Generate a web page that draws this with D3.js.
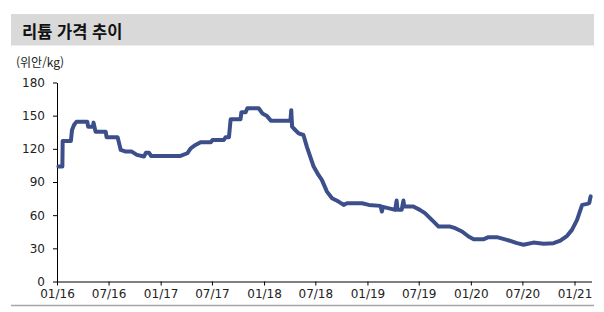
<!DOCTYPE html>
<html lang="ko">
<head>
<meta charset="utf-8">
<style type="text/css">
    body { margin: 0; background: #fff; }
    .tick text { font-family: "DejaVu Sans", sans-serif; font-size: 12px; fill: #222; }
    .axis path, .axis line { stroke: #000; }
    .price { fill: none; stroke: #3d4f8a; stroke-width: 4px; stroke-linejoin: round; stroke-linecap: round; }
</style>
</head>
<body>
<svg width="604" height="312"></svg>

<script src="https://cdn.jsdelivr.net/npm/d3@7"></script>
<script type="text/javascript">

// 리튬 가격 (위안/kg)
var dates = [
    "2016-01-06", "2016-01-20", "2016-01-21", "2016-02-19", "2016-02-23", "2016-03-01", "2016-03-10",
    "2016-04-17", "2016-04-20", "2016-05-07", "2016-05-09", "2016-05-16", "2016-06-21", "2016-06-24",
    "2016-08-02", "2016-08-13", "2016-08-31", "2016-09-21", "2016-10-09", "2016-11-03", "2016-11-10",
    "2016-11-21", "2016-11-28", "2017-03-12", "2017-04-05", "2017-04-17", "2017-05-04", "2017-05-22",
    "2017-06-27", "2017-07-03", "2017-08-12", "2017-08-18", "2017-08-30", "2017-09-05", "2017-10-10",
    "2017-10-13", "2017-10-28", "2017-11-03", "2017-12-13", "2017-12-26", "2018-01-10", "2018-01-25",
    "2018-04-04", "2018-04-07", "2018-04-10", "2018-04-15", "2018-05-03", "2018-05-20", "2018-06-01",
    "2018-06-13", "2018-06-25", "2018-07-12", "2018-07-24", "2018-08-11", "2018-08-29", "2018-09-21",
    "2018-10-09", "2018-10-21", "2018-12-13", "2019-01-06", "2019-02-16", "2019-02-21", "2019-02-25",
    "2019-04-09", "2019-04-14", "2019-04-17", "2019-05-02", "2019-05-08", "2019-05-11", "2019-06-12",
    "2019-07-05", "2019-07-23", "2019-08-10", "2019-08-28", "2019-09-09", "2019-10-20", "2019-11-07",
    "2019-12-01", "2019-12-24", "2020-01-11", "2020-02-16", "2020-03-03", "2020-04-02", "2020-05-07",
    "2020-06-12", "2020-07-05", "2020-08-09", "2020-09-14", "2020-10-19", "2020-11-12", "2020-12-06",
    "2020-12-23", "2021-01-10", "2021-01-22", "2021-01-28", "2021-02-15", "2021-02-22", "2021-02-27"
];
var prices = [
    104, 104, 127, 127, 137, 141.6, 144.6,
    144.6, 140, 140, 143.7, 135.5, 135.5, 130.5,
    130.5, 119, 117.5, 117.5, 114.5, 113, 116.5,
    116.5, 113.6, 113.6, 116, 120.5, 123.5, 126,
    126, 128, 128, 130.5, 130.5, 146.7, 146.7,
    153, 153, 156.7, 156.7, 152, 150, 145.5,
    145.5, 155, 140, 138.6, 134, 132.5, 122,
    113, 104, 96.4, 91.9, 81.3, 75.3, 72.3,
    69.3, 70.8, 70.8, 69.3, 68.4, 63.3, 67.5,
    64.8, 73.2, 65, 65, 73.2, 67.8, 67.8,
    64.8, 61.8, 57.3, 52.8, 49.7, 49.7, 48.2,
    45.2, 40.7, 38.3, 38.3, 40.1, 40.1, 37.7,
    34.7, 33.2, 35.2, 34.1, 34.7, 37, 41.3,
    46.7, 55.7, 64.8, 69.3, 70.2, 71, 77
];
var yTicks = [0, 30, 60, 90, 120, 150, 180];
var xStart = "2016-01-01", xEnd = "2021-03-02";
var title = "리튬 가격 추이";
var unit = "(위안/kg)";

var parse = d3.timeParse("%Y-%m-%d");
var series = dates.map(function (d, i) { return { date: parse(d), value: prices[i] }; });

var svg = d3.select("svg");

// title band
svg.append("rect")
    .attr("x", 11).attr("y", 14)
    .attr("width", 583).attr("height", 31.5)
    .attr("fill", "#d9d9d9");

svg.append("text")
    .attr("x", 22).attr("y", 37.5)
    .style("font-family", "'Noto Sans CJK KR', sans-serif")
    .style("font-weight", "bold")
    .style("font-size", "16.5px")
    .style("fill", "#111")
    .text(title);

svg.append("text")
    .attr("x", 16).attr("y", 66.5)
    .style("font-family", "'Noto Sans CJK KR', sans-serif")
    .style("font-size", "12px")
    .style("fill", "#222")
    .text(unit);

// bottom rule
svg.append("line")
    .attr("x1", 11).attr("x2", 594)
    .attr("y1", 305.5).attr("y2", 305.5)
    .attr("stroke", "#a6a6a6").attr("stroke-width", 1.5);

var x = d3.scaleTime()
    .domain([parse(xStart), parse(xEnd)])
    .range([57, 591.5]);

var y = d3.scaleLinear()
    .domain([0, 180])
    .range([281.5, 82.5]);

var xAxis = d3.axisBottom(x)
    .ticks(d3.timeMonth.every(6))
    .tickFormat(d3.timeFormat("%m/%y"))
    .tickSize(4)
    .tickSizeOuter(0)
    .tickPadding(4);

var yAxis = d3.axisLeft(y)
    .tickValues(yTicks)
    .tickSize(4)
    .tickSizeOuter(0)
    .tickPadding(8);

svg.append("g")
    .attr("class", "axis")
    .attr("transform", "translate(0," + y(0) + ")")
    .call(xAxis);

svg.append("g")
    .attr("class", "axis")
    .attr("transform", "translate(" + x(parse(xStart)) + ",0)")
    .call(yAxis);

var line = d3.line()
    .x(function (d) { return x(d.date); })
    .y(function (d) { return y(d.value); });

svg.append("path")
    .datum(series)
    .attr("class", "price")
    .attr("d", line);

</script>
</body>
</html>
